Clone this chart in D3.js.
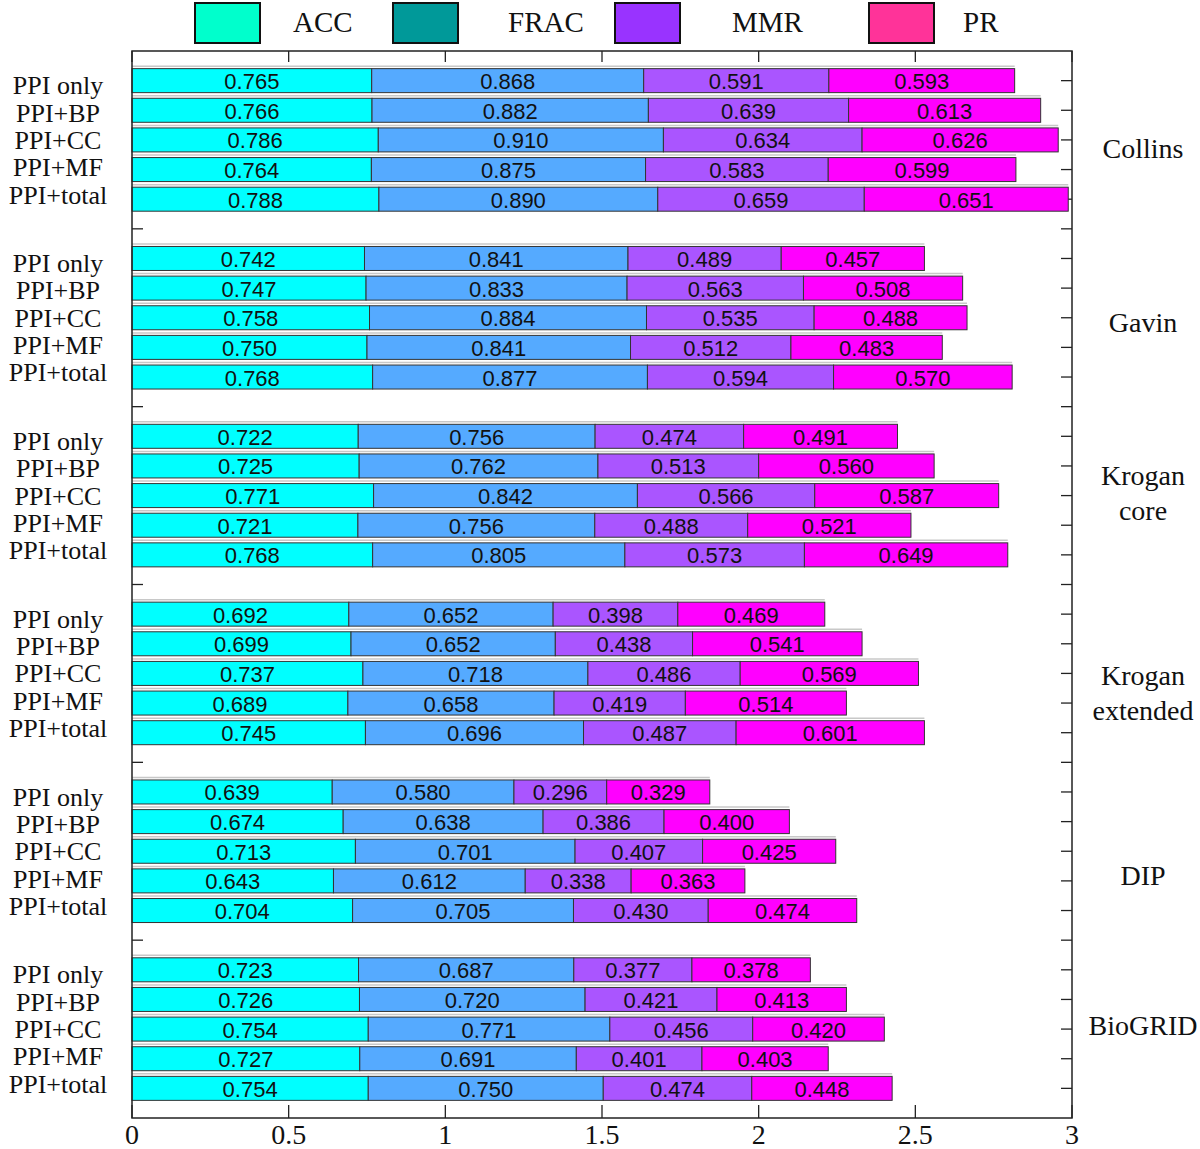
<!DOCTYPE html>
<html><head><meta charset="utf-8">
<script src="https://cdn.jsdelivr.net/npm/d3@7"></script>
<style>body{margin:0;background:#fff}svg{display:block}</style>
</head><body>
<svg id="chart" width="1200" height="1149"></svg>
<script>
const groups = ["Collins", "Gavin", "Krogan core", "Krogan extended", "DIP", "BioGRID"];
const variants = ["PPI only", "PPI+BP", "PPI+CC", "PPI+MF", "PPI+total"];
const metrics = ["ACC", "FRAC", "MMR", "PR"];
// values per group, 5 variants each
const accValues = [
  0.765, 0.766, 0.786, 0.764, 0.788,
  0.742, 0.747, 0.758, 0.750, 0.768,
  0.722, 0.725, 0.771, 0.721, 0.768,
  0.692, 0.699, 0.737, 0.689, 0.745,
  0.639, 0.674, 0.713, 0.643, 0.704,
  0.723, 0.726, 0.754, 0.727, 0.754];
const fracValues = [
  0.868, 0.882, 0.910, 0.875, 0.890,
  0.841, 0.833, 0.884, 0.841, 0.877,
  0.756, 0.762, 0.842, 0.756, 0.805,
  0.652, 0.652, 0.718, 0.658, 0.696,
  0.580, 0.638, 0.701, 0.612, 0.705,
  0.687, 0.720, 0.771, 0.691, 0.750];
const mmrValues = [
  0.591, 0.639, 0.634, 0.583, 0.659,
  0.489, 0.563, 0.535, 0.512, 0.594,
  0.474, 0.513, 0.566, 0.488, 0.573,
  0.398, 0.438, 0.486, 0.419, 0.487,
  0.296, 0.386, 0.407, 0.338, 0.430,
  0.377, 0.421, 0.456, 0.401, 0.474];
const prValues = [
  0.593, 0.613, 0.626, 0.599, 0.651,
  0.457, 0.508, 0.488, 0.483, 0.570,
  0.491, 0.560, 0.587, 0.521, 0.649,
  0.469, 0.541, 0.569, 0.514, 0.601,
  0.329, 0.400, 0.425, 0.363, 0.474,
  0.378, 0.413, 0.420, 0.403, 0.448];
const xTicks = [0, 0.5, 1, 1.5, 2, 2.5, 3];
const xTickLabels = ["0", "0.5", "1", "1.5", "2", "2.5", "3"];

const barColors = ["#00FFFF", "#55AAFF", "#AA55FF", "#FF00FF"];
const legendColors = ["#00FFCC", "#009999", "#9933FF", "#FF3399"];
const serif = "'Liberation Serif','Times New Roman',serif";
const sans = "'Liberation Sans',Arial,sans-serif";

const svg = d3.select("#chart");
const L = 132, R = 1072, T = 51, B = 1118;
const nRows = groups.length * (variants.length + 1); // 36
const x = d3.scaleLinear().domain([0, 3]).range([L, R]);
const y = d3.scaleLinear().domain([0, nRows]).range([T, B]);
const barH = 24;

const series = [accValues, fracValues, mmrValues, prValues];
const rows = [];
groups.forEach((g, gi) => {
  variants.forEach((v, vi) => {
    const idx = gi * variants.length + vi;
    const pos = 1 + gi * (variants.length + 1) + vi;
    let acc = 0;
    const segs = series.map((s, si) => {
      const seg = {x0: acc, x1: acc + s[idx], v: s[idx], si};
      acc += s[idx];
      return seg;
    });
    rows.push({gi, vi, pos, segs, total: acc, label: v});
  });
});

// y ticks (every row position)
const tickPositions = d3.range(1, nRows);
const ax = svg.append("g").attr("stroke", "#222").attr("stroke-width", 1.3);
tickPositions.forEach(p => {
  ax.append("line").attr("x1", L).attr("x2", L + 11).attr("y1", y(p)).attr("y2", y(p));
  ax.append("line").attr("x1", R).attr("x2", R - 11).attr("y1", y(p)).attr("y2", y(p));
});
xTicks.forEach(t => {
  ax.append("line").attr("x1", x(t)).attr("x2", x(t)).attr("y1", B).attr("y2", B - 13);
  ax.append("line").attr("x1", x(t)).attr("x2", x(t)).attr("y1", T).attr("y2", T + 11);
});

// bars
const barG = svg.append("g");
rows.forEach(r => {
  const cy = y(r.pos);
  barG.append("line").attr("x1", x(0)).attr("x2", x(r.total))
    .attr("y1", cy - barH / 2 - 2.5).attr("y2", cy - barH / 2 - 2.5)
    .attr("stroke", "#c8c8c8").attr("stroke-width", 1.5);
  r.segs.forEach(s => {
    barG.append("rect")
      .attr("x", x(s.x0)).attr("y", cy - barH / 2)
      .attr("width", x(s.x1) - x(s.x0)).attr("height", barH)
      .attr("fill", barColors[s.si]).attr("stroke", "#333").attr("stroke-width", 1);
    barG.append("text")
      .attr("x", (x(s.x0) + x(s.x1)) / 2).attr("y", cy + 1)
      .attr("text-anchor", "middle").attr("dominant-baseline", "central")
      .attr("font-family", sans).attr("font-size", 22).attr("fill", "#111")
      .text(s.v.toFixed(3));
  });
});

// frame
svg.append("rect").attr("x", L).attr("y", T).attr("width", R - L).attr("height", B - T)
  .attr("fill", "none").attr("stroke", "#222").attr("stroke-width", 1.5);

// x tick labels
xTicks.forEach((t, i) => {
  svg.append("text").attr("x", x(t)).attr("y", 1144)
    .attr("text-anchor", "middle").attr("font-family", serif).attr("font-size", 28)
    .attr("fill", "#111").text(xTickLabels[i]);
});

// left labels
const labelStep = 27.3;
rows.forEach(r => {
  const mid = y(1 + r.gi * (variants.length + 1) + 2);
  svg.append("text").attr("x", 58).attr("y", mid + (r.vi - 2) * labelStep + 9)
    .attr("text-anchor", "middle").attr("font-family", serif).attr("font-size", 26)
    .attr("fill", "#111").text(r.label);
});

// right group labels
const groupNudge = [8, 4, -3, 19, 24, -4];
groups.forEach((g, gi) => {
  const mid = y(1 + gi * (variants.length + 1) + 2) + groupNudge[gi];
  const words = g.split(" ");
  const lh = 35;
  words.forEach((w, wi) => {
    svg.append("text").attr("x", 1143)
      .attr("y", mid + (wi - (words.length - 1) / 2) * lh + 10)
      .attr("text-anchor", "middle").attr("font-family", serif).attr("font-size", 28)
      .attr("fill", "#111").text(w);
  });
});

// legend
const legendBoxX = [195, 393, 615, 869];
const legendTextX = [293, 508, 732, 963];
metrics.forEach((m, i) => {
  svg.append("rect").attr("x", legendBoxX[i]).attr("y", 3).attr("width", 65).attr("height", 40)
    .attr("fill", legendColors[i]).attr("stroke", "#111").attr("stroke-width", 2);
  svg.append("text").attr("x", legendTextX[i]).attr("y", 32)
    .attr("font-family", serif).attr("font-size", 29).attr("fill", "#111").text(m);
});
</script>
</body></html>
